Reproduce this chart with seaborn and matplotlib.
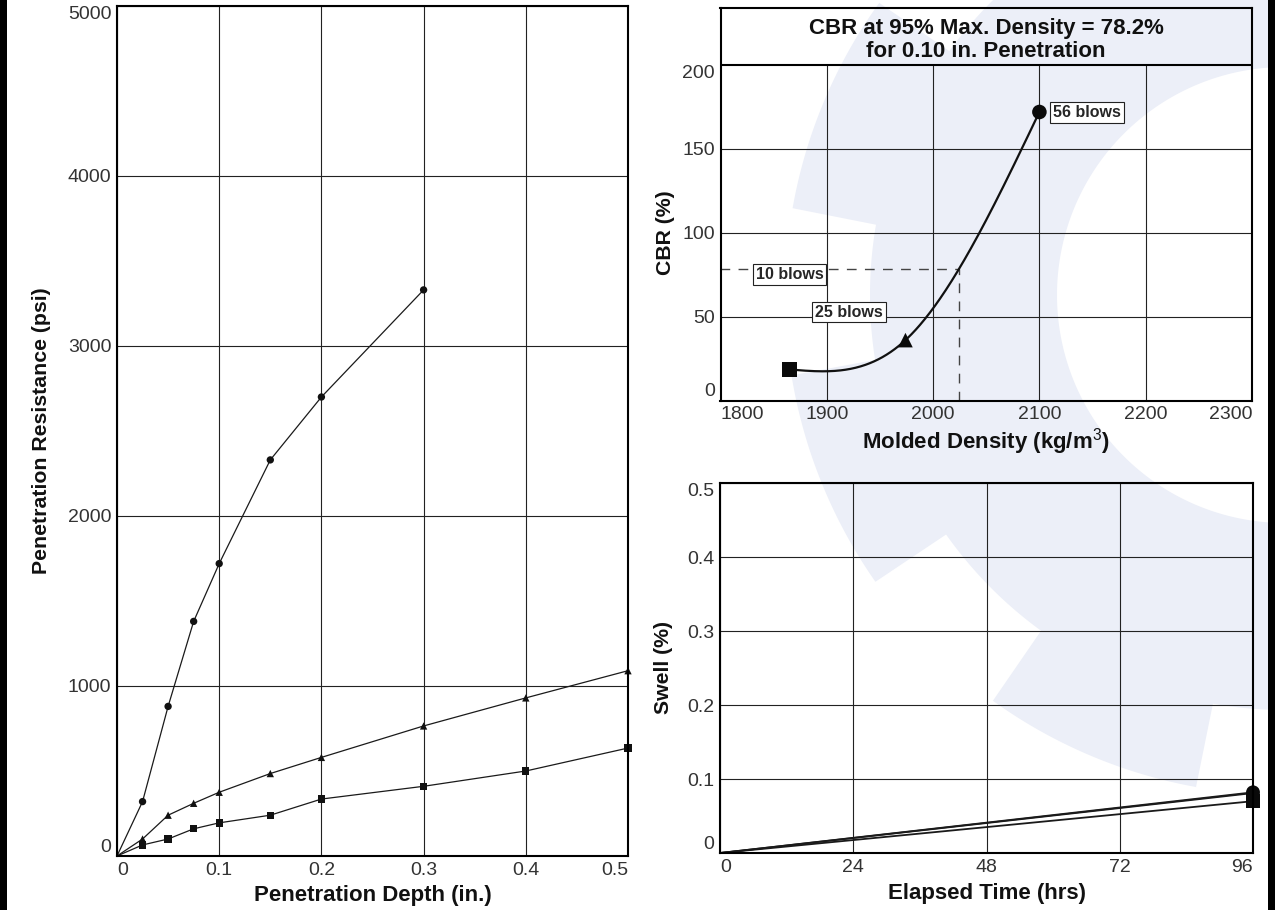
import numpy as np
import pandas as pd
import matplotlib
matplotlib.use("Agg")
import matplotlib.pyplot as plt
from matplotlib.path import Path
from matplotlib.patches import PathPatch, Rectangle
import seaborn as sns

# --- penetration test (left panel) ---
depth = [0, 0.025, 0.05, 0.075, 0.1, 0.15, 0.2, 0.3, 0.4, 0.5]
psi_56 = [0, 320, 880, 1380, 1720, 2330, 2700, 3330]  # 56 blows stops at 0.3 in.
psi_25 = [0, 100, 240, 310, 375, 485, 580, 765, 930, 1090]
psi_10 = [0, 65, 100, 160, 195, 240, 335, 410, 500, 635]

# --- CBR vs molded density (top right) ---
blows = ["10 blows", "25 blows", "56 blows"]
density = [1865, 1974, 2100]
cbr = [18.5, 36, 172]
cbr_95 = 78.2

# --- swell (bottom right) ---
hours = [0, 96]
swell_10 = [0, 0.070]
swell_25 = [0, 0.081]
swell_56 = [0, 0.082]

markers = {"10 blows": "s", "25 blows": "^", "56 blows": "o"}
black = {b: "#1a1a1a" for b in blows}


def natural_spline(x, y, xs):
    # natural cubic spline through the measured points
    x = np.asarray(x, float)
    y = np.asarray(y, float)
    n = len(x)
    h = np.diff(x)
    d = np.diff(y) / h
    M = np.zeros(n)
    if n > 2:
        A = np.zeros((n - 2, n - 2))
        rhs = 6 * np.diff(d)
        for i in range(n - 2):
            A[i, i] = 2 * (h[i] + h[i + 1])
            if i > 0:
                A[i, i - 1] = h[i]
            if i < n - 3:
                A[i, i + 1] = h[i + 1]
        M[1:-1] = np.linalg.solve(A, rhs)
    idx = np.clip(np.searchsorted(x, xs) - 1, 0, n - 2)
    t0 = xs - x[idx]
    t1 = x[idx + 1] - xs
    hi = h[idx]
    return (M[idx] * t1 ** 3 / (6 * hi) + M[idx + 1] * t0 ** 3 / (6 * hi)
            + (y[idx] / hi - M[idx] * hi / 6) * t1
            + (y[idx + 1] / hi - M[idx + 1] * hi / 6) * t0)


sns.set_theme(style="white")
plt.rcParams["font.family"] = ["Liberation Sans", "DejaVu Sans"]
plt.rcParams["mathtext.fontset"] = "custom"
plt.rcParams["mathtext.rm"] = "Liberation Sans"
plt.rcParams["axes.edgecolor"] = "black"

W, H = 1275, 910
fig = plt.figure(figsize=(W / 100, H / 100), dpi=100)
fig.patch.set_facecolor("white")


def px_axes(left, top, right, bottom):
    return fig.add_axes([left / W, 1 - bottom / H, (right - left) / W, (bottom - top) / H])


# faint gear watermark behind the right panels
cx, cy = 1285, 295
theta = np.linspace(0, 2 * np.pi, 1441)
teeth = np.radians([23, 68, 113, 158, 203, 248, 293, 338])
dist = np.min(np.abs((theta[:, None] - teeth[None, :] + np.pi) % (2 * np.pi) - np.pi), axis=1)
r_out = np.where(dist < np.radians(13), 500, 415)
outer = np.column_stack([cx + r_out * np.cos(theta), cy + r_out * np.sin(theta)])
inner = np.column_stack([cx + 228 * np.cos(theta[::-1]), cy + 228 * np.sin(theta[::-1])])
verts = np.vstack([outer, inner])
verts = np.column_stack([verts[:, 0] / W, 1 - verts[:, 1] / H])
codes = ([Path.MOVETO] + [Path.LINETO] * (len(outer) - 1)
         + [Path.MOVETO] + [Path.LINETO] * (len(inner) - 1))
fig.add_artist(PathPatch(Path(verts, codes), transform=fig.transFigure,
                         fc="#eceff8", ec="none", zorder=-5))

# black side bars of the sheet
fig.add_artist(Rectangle((0, 0), 7 / W, 1, transform=fig.transFigure, fc="black", ec="none"))
fig.add_artist(Rectangle((1 - 7 / W, 0), 7 / W, 1, transform=fig.transFigure, fc="black", ec="none"))

tick_kw = dict(length=0, labelsize=14, labelcolor="#333333", pad=4)
label_kw = dict(fontsize=16, fontweight="bold", color="#111111")
ylabel_kw = dict(fontsize=15.3, fontweight="bold", color="#111111")


def edge_labels(ax):
    xt = ax.xaxis.get_major_ticks()
    yt = ax.yaxis.get_major_ticks()
    xt[0].label1.set_horizontalalignment("left")
    xt[-1].label1.set_horizontalalignment("right")
    yt[0].label1.set_verticalalignment("bottom")
    yt[-1].label1.set_verticalalignment("top")


# ---------------- left: penetration resistance ----------------
ax1 = px_axes(117, 6, 628, 856)
ax1.set_facecolor("none")
pen = pd.concat([
    pd.DataFrame({"depth": depth[:len(psi_10)], "psi": psi_10, "blows": "10 blows"}),
    pd.DataFrame({"depth": depth[:len(psi_25)], "psi": psi_25, "blows": "25 blows"}),
    pd.DataFrame({"depth": depth[:len(psi_56)], "psi": psi_56, "blows": "56 blows"}),
])
sns.lineplot(data=pen, x="depth", y="psi", hue="blows", palette=black, lw=0.9,
             legend=False, ax=ax1, zorder=3)
sns.scatterplot(data=pen[pen["depth"] > 0], x="depth", y="psi", style="blows",
                markers=markers, color="#111111", s=28, edgecolor="none",
                legend=False, ax=ax1, zorder=4, clip_on=False)
ax1.set_xlim(0, 0.5)
ax1.set_ylim(0, 5000)
ax1.set_xticks([0, 0.1, 0.2, 0.3, 0.4, 0.5], ["0", "0.1", "0.2", "0.3", "0.4", "0.5"])
ax1.set_yticks([0, 1000, 2000, 3000, 4000, 5000])
ax1.grid(True, color="#222222", lw=0.8)
ax1.tick_params(**tick_kw)
ax1.set_xlabel("Penetration Depth (in.)", labelpad=5, **label_kw)
ax1.set_ylabel("Penetration Resistance (psi)", labelpad=12, **ylabel_kw)
edge_labels(ax1)

# ---------------- top right: CBR vs density ----------------
ax2 = px_axes(720.5, 8, 1252, 400.5)
ax2.set_facecolor("none")
dens_fit = np.linspace(density[0], density[-1], 300)
cbr_fit = natural_spline(density, cbr, dens_fit)
sns.lineplot(x=dens_fit, y=cbr_fit, color="#111111", lw=1.6, ax=ax2, zorder=3)
rising = dens_fit >= dens_fit[np.argmin(cbr_fit)]
d95 = float(np.interp(cbr_95, cbr_fit[rising], dens_fit[rising]))
ax2.plot([1800, d95], [cbr_95, cbr_95], color="#444444", lw=1, ls=(0, (7, 6)), zorder=2)
ax2.plot([d95, d95], [0, cbr_95], color="#444444", lw=1, ls=(0, (7, 6)), zorder=2)
cbr_df = pd.DataFrame({"density": density, "cbr": cbr, "blows": blows})
sns.scatterplot(data=cbr_df, x="density", y="cbr", style="blows", markers=markers,
                color="#0a0a0a", s=110, edgecolor="none", legend=False, ax=ax2, zorder=5)
ax2.set_xlim(1800, 2300)
ax2.set_ylim(0, 234)
ax2.set_xticks([1800, 1900, 2000, 2100, 2200, 2300])
ax2.set_yticks([0, 50, 100, 150, 200])
ax2.vlines([1900, 2000, 2100, 2200], 0, 200, color="#222222", lw=0.8, zorder=1)
ax2.hlines([50, 100, 150], 1800, 2300, color="#222222", lw=0.8, zorder=1)
ax2.axhline(200, color="black", lw=1.5, zorder=2)
ax2.tick_params(**tick_kw)
ax2.text(2050, 215, "CBR at 95% Max. Density = 78.2%\nfor 0.10 in. Penetration",
         ha="center", va="center", fontsize=16, fontweight="bold", color="#111111",
         linespacing=1.1)
box = dict(boxstyle="square,pad=0.18", fc="white", ec="#222222", lw=0.8)
ax2.text(1865, 75, "10 blows", ha="center", va="center", fontsize=11.5,
         fontweight="bold", bbox=box, zorder=4)
ax2.text(1921, 52.7, "25 blows", ha="center", va="center", fontsize=11.5,
         fontweight="bold", bbox=box, zorder=4)
ax2.text(2113, 171.7, "56 blows", ha="left", va="center", fontsize=11.5,
         fontweight="bold", bbox=box, zorder=4)
ax2.set_xlabel("Molded Density (kg/m$^3$)", labelpad=2, **label_kw)
ax2.set_ylabel("CBR (%)", **ylabel_kw)
ax2.yaxis.set_label_coords(-0.085, 100 / 234)
edge_labels(ax2)

# ---------------- bottom right: swell ----------------
ax3 = px_axes(720, 483, 1253, 853)
ax3.set_facecolor("none")
sw = pd.concat([
    pd.DataFrame({"hours": hours, "swell": swell_10, "blows": "10 blows"}),
    pd.DataFrame({"hours": hours, "swell": swell_25, "blows": "25 blows"}),
    pd.DataFrame({"hours": hours, "swell": swell_56, "blows": "56 blows"}),
])
sns.lineplot(data=sw, x="hours", y="swell", hue="blows", palette=black,
             lw=1.3, legend=False, ax=ax3, zorder=3)
sns.scatterplot(data=sw[sw["hours"] > 0], x="hours", y="swell", style="blows",
                markers=markers, color="#0a0a0a", s=100, edgecolor="none",
                legend=False, ax=ax3, zorder=5, clip_on=False)
ax3.set_xlim(0, 96)
ax3.set_ylim(0, 0.5)
ax3.set_xticks([0, 24, 48, 72, 96])
ax3.set_yticks([0, 0.1, 0.2, 0.3, 0.4, 0.5], ["0", "0.1", "0.2", "0.3", "0.4", "0.5"])
ax3.grid(True, color="#222222", lw=0.8)
ax3.tick_params(**tick_kw)
ax3.set_xlabel("Elapsed Time (hrs)", labelpad=5, **label_kw)
ax3.set_ylabel("Swell (%)", labelpad=10, **ylabel_kw)
edge_labels(ax3)

for ax in (ax1, ax2, ax3):
    for sp in ax.spines.values():
        sp.set_linewidth(1.5)
        sp.set_color("black")
        sp.set_zorder(6)

fig.savefig("out.png", dpi=100, facecolor="white")
